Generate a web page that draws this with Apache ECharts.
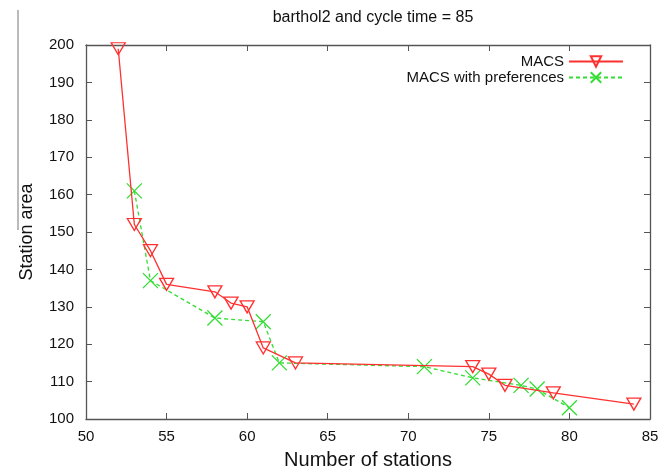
<!DOCTYPE html>
<html>
<head>
<meta charset="utf-8">
<script src="https://cdn.jsdelivr.net/npm/echarts@6/dist/echarts.min.js"></script>
<style>
  html, body { margin: 0; padding: 0; background: #fff; }
  #chart { width: 672px; height: 472px; }
</style>
</head>
<body>
<div id="chart"></div>
<script>
  // data
  const macsStations = [52, 53, 54, 55, 58, 59, 60, 61, 63, 74, 75, 76, 79, 84];
  const macsArea     = [199, 152, 145, 136, 134, 131, 130, 119, 115, 114, 112, 109, 107, 104];
  const prefStations = [53, 54, 58, 61, 62, 71, 74, 77, 78, 80];
  const prefArea     = [161, 137, 127, 126, 115, 114, 111, 109, 108, 103];
  const xTicks = [50, 55, 60, 65, 70, 75, 80, 85];
  const yTicks = [100, 110, 120, 130, 140, 150, 160, 170, 180, 190, 200];

  const RED = '#ff3030';
  const GREEN = '#33dd33';
  const FONT = '"Liberation Sans", Arial, sans-serif';

  const TRI_DOWN = 'path://M0,0 L12,0 L6,10 Z';
  const CROSS = 'path://M0,0 L10,10 M10,0 L0,10';

  const chart = echarts.init(document.getElementById('chart'));

  const axisLine = { show: true, lineStyle: { color: '#555', width: 1.3 } };
  const axisTick = { show: true, inside: true, length: 6, lineStyle: { color: '#555', width: 1 } };

  chart.setOption({
    animation: false,
    textStyle: { fontFamily: FONT },
    title: {
      text: 'barthol2 and cycle time = 85',
      left: 368, top: 5, textAlign: 'center',
      textStyle: { fontSize: 16, fontWeight: 'normal', color: '#111', fontFamily: FONT },
    },
    legend: {
      orient: 'vertical',
      align: 'right',
      right: 43, top: 49,
      itemWidth: 54, itemHeight: 13, itemGap: 1,
      textStyle: { fontSize: 15, color: '#111', fontFamily: FONT },
      data: ['MACS', 'MACS with preferences'],
    },
    grid: { left: 86, right: 22, top: 45, bottom: 53, outerBoundsMode: 'none' },
    graphic: [{
      type: 'line',
      shape: { x1: 18, y1: 10, x2: 18, y2: 230 },
      style: { stroke: '#777', lineWidth: 1 },
    }],
    xAxis: [{
      type: 'value', min: xTicks[0], max: xTicks[xTicks.length - 1], interval: 5,
      name: 'Number of stations', nameLocation: 'middle', nameGap: 31,
      nameTextStyle: { fontSize: 20, color: '#111', fontFamily: FONT },
      axisLine, axisTick,
      axisLabel: { fontSize: 15, color: '#111', margin: 10, fontFamily: FONT },
      splitLine: { show: false },
    }, {
      type: 'value', position: 'top', min: xTicks[0], max: xTicks[xTicks.length - 1], interval: 5,
      axisLine, axisTick, axisLabel: { show: false }, splitLine: { show: false },
    }],
    yAxis: [{
      type: 'value', min: yTicks[0], max: yTicks[yTicks.length - 1], interval: 10,
      name: 'Station area', nameLocation: 'middle', nameGap: 50,
      nameTextStyle: { fontSize: 18, color: '#111', fontFamily: FONT },
      axisLine, axisTick,
      axisLabel: { fontSize: 15, color: '#111', margin: 12, fontFamily: FONT },
      splitLine: { show: false },
    }, {
      type: 'value', position: 'right', min: yTicks[0], max: yTicks[yTicks.length - 1], interval: 10,
      axisLine, axisTick, axisLabel: { show: false }, splitLine: { show: false },
    }],
    series: [{
      name: 'MACS',
      type: 'line',
      data: macsStations.map((s, i) => [s, macsArea[i]]),
      symbol: TRI_DOWN,
      symbolSize: [14, 12],
      showAllSymbol: true,
      lineStyle: { color: RED, width: 1.3 },
      itemStyle: { color: 'rgba(255,255,255,0)', borderColor: RED, borderWidth: 1.3 },
      z: 3,
    }, {
      name: 'MACS with preferences',
      type: 'line',
      data: prefStations.map((s, i) => [s, prefArea[i]]),
      symbol: CROSS,
      symbolSize: 15,
      showAllSymbol: true,
      lineStyle: { color: GREEN, width: 1.3, type: [4, 3] },
      itemStyle: { color: 'rgba(255,255,255,0)', borderColor: GREEN, borderWidth: 1.3 },
      z: 2,
    }],
  });
</script>
</body>
</html>
